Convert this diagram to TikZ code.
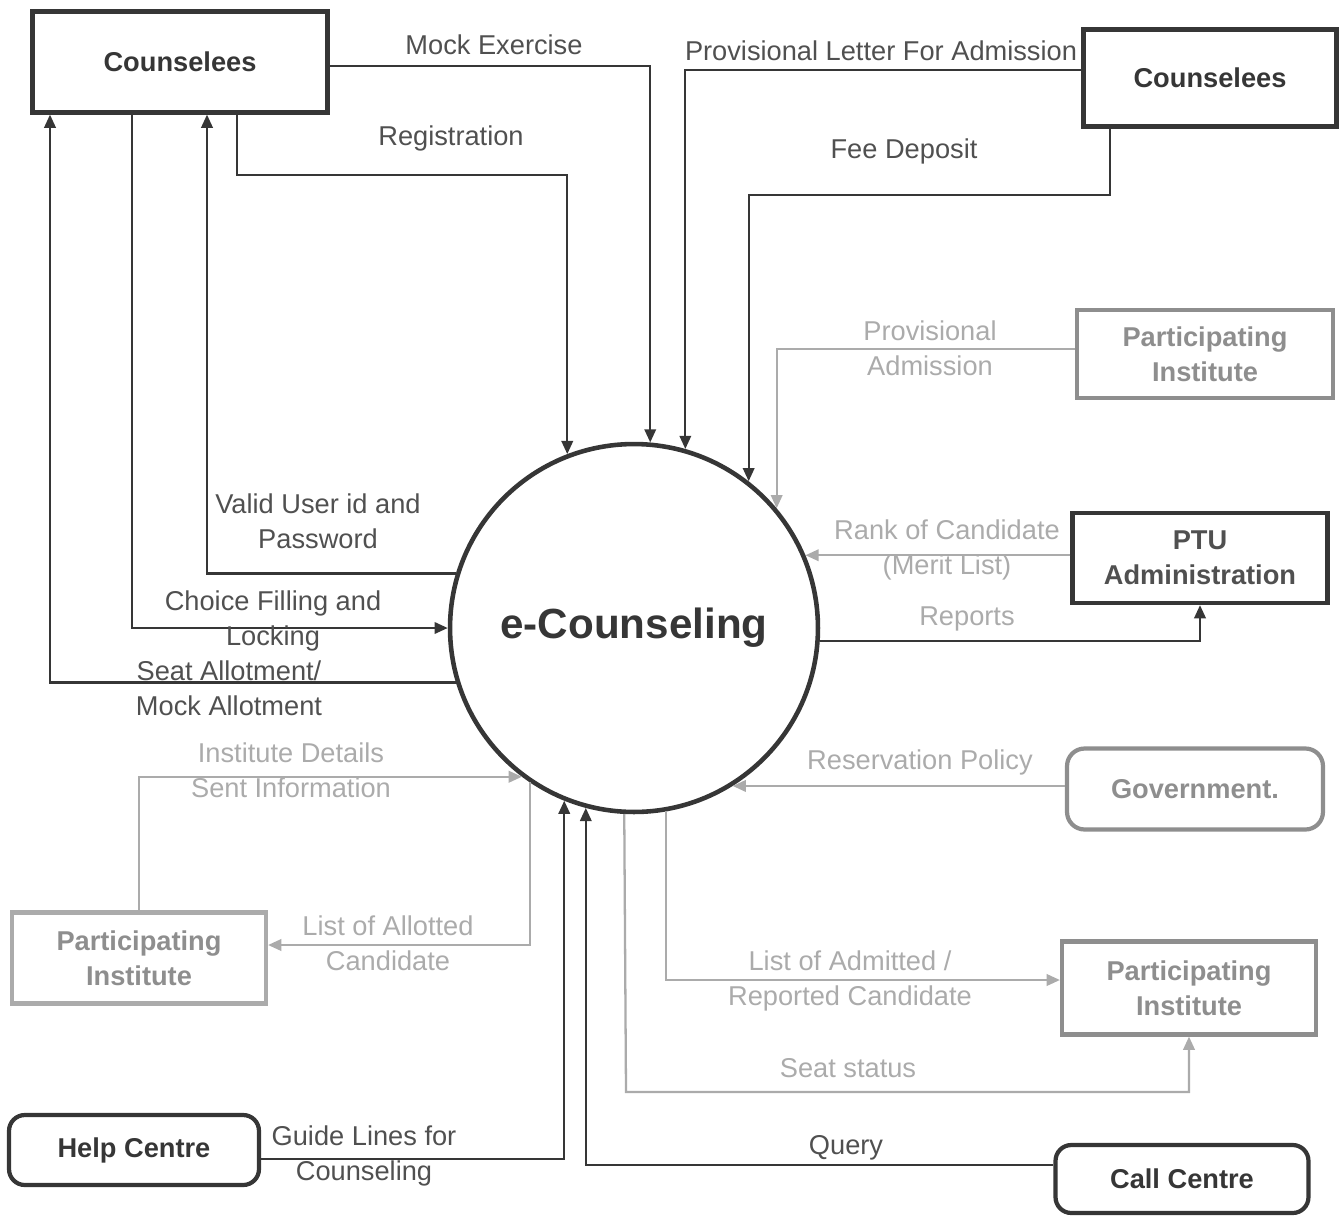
\documentclass[tikz,border=0pt]{standalone}
\usepackage{fontspec}
\setmainfont{Liberation Sans}
\usepackage{tikz}
\usetikzlibrary{arrows.meta,positioning}

\definecolor{ink}{HTML}{363636}
\definecolor{txt}{HTML}{505050}
\definecolor{fade}{HTML}{ABABAB}
\definecolor{mid}{HTML}{8E8E8E}

\begin{document}
\begin{tikzpicture}[x=0.02cm,y=-0.02cm,
  box/.style={draw=ink,line width=2.4pt,text=ink,align=center,
    font=\fontsize{15.5}{20}\selectfont\bfseries},
  gbox/.style={box,draw=mid,text=mid},
  rbox/.style={box,rounded corners=9pt},
  flow/.style={draw=ink,line width=1.3pt,-{Triangle[length=7.5pt,width=6.5pt]}},
  gflow/.style={flow,draw=fade},
  lbl/.style={text=txt,align=center,font=\fontsize{15.5}{20}\selectfont},
  glbl/.style={lbl,text=fade}]
\useasboundingbox (0,0) rectangle (1343,1218);

% The process
\node[circle,draw=ink,line width=2.6pt,minimum size=7.36cm,text=ink,
  font=\fontsize{24}{28}\selectfont\bfseries] (ec) at (634,628) {e-Counseling};

% External entities
\node[box,minimum width=5.9cm,minimum height=2.02cm] (cl) at (180,62) {Counselees};
\node[box,minimum width=5.06cm,minimum height=1.94cm] (cr) at (1210,78) {Counselees};
\node[gbox,minimum width=5.12cm,minimum height=1.76cm] (pi1) at (1205,354) {Participating\\Institute};
\node[box,text=txt,minimum width=5.1cm,minimum height=1.8cm] (ptu) at (1200,558) {PTU\\Administration};
\node[gbox,rounded corners=10pt,minimum width=5.12cm,minimum height=1.62cm] (gov) at (1195,789) {Government.};
\node[gbox,minimum width=5.08cm,minimum height=1.86cm] (pi2) at (1189,988) {Participating\\Institute};
\node[gbox,draw=fade,minimum width=5.08cm,minimum height=1.82cm] (pi3) at (139,958) {Participating\\Institute};
\node[rbox,minimum width=5cm,minimum height=1.4cm] (hc) at (134,1150) {Help Centre};
\node[rbox,minimum width=5.06cm,minimum height=1.36cm] (cc) at (1182,1179) {Call Centre};

% Flows with the counselees (left)
\draw[flow] (cl.east |- 0,66) -| (ec.85.6);
\draw[flow] (cl.south -| 237,0) -- (237,175) -| (ec.111.7);
\draw[flow] (ec.163.3) -| (cl.south -| 207,0);
\draw[flow] (cl.south -| 132,0) |- (ec.180);
\draw[flow] (ec.197.6) -| (cl.south -| 50,0);
\node[lbl] at (494,45) {Mock Exercise};
\node[lbl] at (451,138) {Registration};
\node[lbl] at (318,521) {Valid User id and\\Password};
\node[lbl] at (273,621) {Choice Filling and\\Locking};
\node[lbl] at (229,688) {Seat Allotment/\\Mock Allotment};

% Flows with the counselees (right)
\draw[flow] (cr.west |- 0,70) -| (ec.74.2);
\draw[flow] (cr.south -| 1110,0) -- (1110,195) -| (ec.52.1);
\node[lbl] at (881,51) {Provisional Letter For Admission};
\node[lbl] at (904,151) {Fee Deposit};

% Institutes, administration and government
\draw[gflow] (pi1.west |- 0,349) -| (ec.40);
\draw[gflow] (ptu.west |- ec.23.5) -- (ec.23.5);
\draw[flow] (ec.356.9) -| (ptu.south);
\draw[gflow] (gov.west |- ec.302.6) -- (ec.302.6);
\draw[gflow] (ec.280) |- (pi2.west |- 0,980);
\draw[gflow] (ec.267.5) -- (626,1092) -| (pi2.south);
\draw[gflow] (pi3.north) |- (ec.233.6);
\draw[gflow] (ec.236.7) |- (pi3.east |- 0,945);
\node[glbl] at (930,348) {Provisional\\Admission};
\node[glbl] at (947,550) {Rank of Candidate\\(Merit List)};
\node[glbl] at (967,619) {Reports};
\node[glbl] at (920,762) {Reservation Policy};
\node[glbl] at (850,981) {List of Admitted /\\Reported Candidate};
\node[glbl] at (848,1068) {Seat status};
\node[glbl] at (291,770) {Institute Details\\Sent Information};
\node[glbl] at (388,943) {List of Allotted\\Candidate};

% Help and call centres
\draw[flow] (hc.east |- 0,1159) -| (ec.248.3);
\draw[flow] (cc.west |- 0,1165) -| (ec.255.8);
\node[lbl] at (364,1156) {Guide Lines for\\Counseling};
\node[lbl] at (846,1148) {Query};
\end{tikzpicture}
\end{document}
